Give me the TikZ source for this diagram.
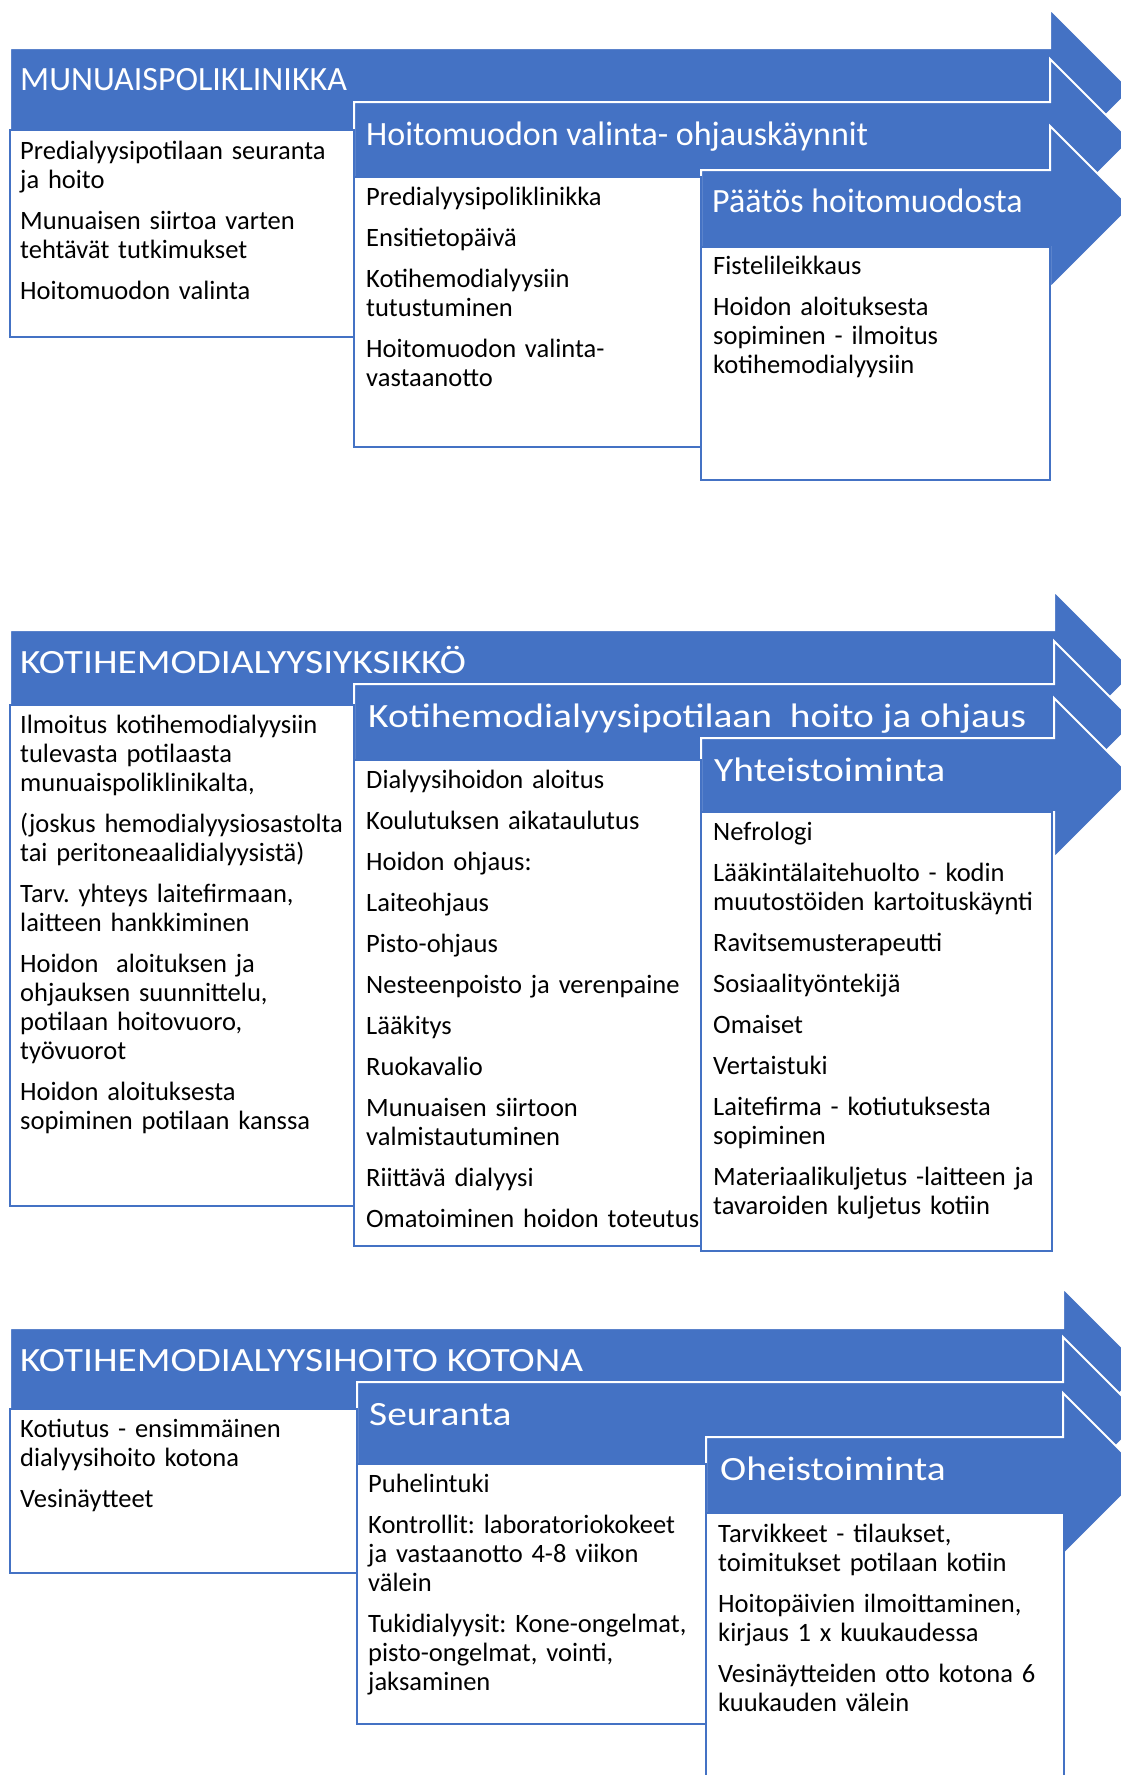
\documentclass[tikz,border=0pt]{standalone}
\usepackage{fontspec}
\setmainfont{Carlito}
\newfontfamily\wideheadfont[FakeStretch=1.16]{Carlito}
\definecolor{accent}{HTML}{4472C4}
\frenchspacing

\begin{document}
\begin{tikzpicture}[x=1pt, y=-1pt,
    arrowshape/.style={fill=accent, draw=white, line width=2pt, line join=miter},
    textbox/.style={draw=accent, fill=white, line width=2pt},
    header/.style={anchor=base west, inner sep=0pt, text=white, font=\fontsize{34}{40}\selectfont},
    wideheader/.style={header, font=\wideheadfont\fontsize{34}{40}\selectfont},
    items/.style={anchor=base west, inner sep=0pt, text width=420pt, align=left, font=\fontsize{26.5}{29}\selectfont}]
    \useasboundingbox (0,0) rectangle (1120,1775);

    % Munuaispoliklinikka
    \filldraw[arrowshape] (10,48) -- (1050,48) -- (1050,9) -- (1131,90) -- (1050,171) -- (1050,130) -- (10,130) -- cycle;
    \filldraw[arrowshape] (354,102) -- (1050,102) -- (1050,59) -- (1131,140) -- (1050,221) -- (1050,177) -- (354,177) -- cycle;
    \filldraw[arrowshape] (701,170) -- (1050,170) -- (1050,126) -- (1131,207) -- (1050,288) -- (1050,247) -- (701,247) -- cycle;
    \draw[textbox] (10,130) rectangle (354,337);
    \draw[textbox] (354,177) rectangle (701,447);
    \draw[textbox] (701,247) rectangle (1050,480);
    \node[header] (polihead) at (20,90) {MUNUAISPOLIKLINIKKA};
    \node[header] (valintahead) at (366,145) {Hoitomuodon valinta- ohjauskäynnit};
    \node[header] (paatoshead) at (712,212) {Päätös hoitomuodosta};
    \node[items] (politext) at (20,159) {Predialyysipotilaan seuranta\\ja hoito\\[12pt]
        Munuaisen siirtoa varten\\tehtävät tutkimukset\\[12pt]
        Hoitomuodon valinta};
    \node[items] (valintatext) at (366,205) {Predialyysipoliklinikka\\[12pt]
        Ensitietopäivä\\[12pt]
        Kotihemodialyysiin\\tutustuminen\\[12pt]
        Hoitomuodon valinta-\\vastaanotto};
    \node[items] (paatostext) at (713,274) {Fistelileikkaus\\[12pt]
        Hoidon aloituksesta\\sopiminen - ilmoitus\\kotihemodialyysiin};

    % Kotihemodialyysiyksikko
    \filldraw[arrowshape] (10,630) -- (1054,630) -- (1054,591) -- (1135,672) -- (1054,753) -- (1054,705) -- (10,705) -- cycle;
    \filldraw[arrowshape] (354,684) -- (1054,684) -- (1054,641) -- (1135,722) -- (1054,803) -- (1054,760) -- (354,760) -- cycle;
    \filldraw[arrowshape] (701,738) -- (1054,738) -- (1054,698) -- (1134,778) -- (1054,858) -- (1054,812) -- (701,812) -- cycle;
    \draw[textbox] (10,705) rectangle (354,1206);
    \draw[textbox] (354,760) rectangle (701,1246);
    \draw[textbox] (701,812) rectangle (1052,1251);
    \node[wideheader] (yksikkohead) at (20,673) {KOTIHEMODIALYYSIYKSIKKÖ};
    \node[wideheader] (hoitohead) at (368,727) {Kotihemodialyysipotilaan\ \ hoito ja ohjaus};
    \node[wideheader] (yhteishead) at (714,781) {Yhteistoiminta};
    \node[items] (yksikkotext) at (20,733) {Ilmoitus kotihemodialyysiin\\tulevasta potilaasta\\munuaispoliklinikalta,\\[12pt]
        (joskus hemodialyysiosastolta\\tai peritoneaalidialyysistä)\\[12pt]
        Tarv. yhteys laitefirmaan,\\laitteen hankkiminen\\[12pt]
        Hoidon\ \ aloituksen ja\\ohjauksen suunnittelu,\\potilaan hoitovuoro,\\työvuorot\\[12pt]
        Hoidon aloituksesta\\sopiminen potilaan kanssa};
    \node[items] (hoitotext) at (366,788) {Dialyysihoidon aloitus\\[12pt]
        Koulutuksen aikataulutus\\[12pt]
        Hoidon ohjaus:\\[12pt]
        Laiteohjaus\\[12pt]
        Pisto-ohjaus\\[12pt]
        Nesteenpoisto ja verenpaine\\[12pt]
        Lääkitys\\[12pt]
        Ruokavalio\\[12pt]
        Munuaisen siirtoon\\valmistautuminen\\[12pt]
        Riittävä dialyysi\\[12pt]
        Omatoiminen hoidon toteutus};
    \node[items] (yhteistext) at (713,840) {Nefrologi\\[12pt]
        Lääkintälaitehuolto - kodin\\muutostöiden kartoituskäynti\\[12pt]
        Ravitsemusterapeutti\\[12pt]
        Sosiaalityöntekijä\\[12pt]
        Omaiset\\[12pt]
        Vertaistuki\\[12pt]
        Laitefirma - kotiutuksesta\\sopiminen\\[12pt]
        Materiaalikuljetus -laitteen ja\\tavaroiden kuljetus kotiin};

    % Kotihemodialyysihoito kotona
    \filldraw[arrowshape] (10,1328) -- (1063,1328) -- (1063,1288) -- (1144,1369) -- (1063,1450) -- (1063,1409) -- (10,1409) -- cycle;
    \filldraw[arrowshape] (357,1382) -- (1063,1382) -- (1063,1337) -- (1144,1418) -- (1063,1499) -- (1063,1464) -- (357,1464) -- cycle;
    \filldraw[arrowshape] (706,1437) -- (1063,1437) -- (1063,1393) -- (1144,1474) -- (1063,1555) -- (1063,1513) -- (706,1513) -- cycle;
    \draw[textbox] (10,1409) rectangle (357,1573);
    \draw[textbox] (357,1464) rectangle (706,1724);
    \draw[textbox] (706,1513) rectangle (1064,1790);
    \node[wideheader] (kotihead) at (20,1371) {KOTIHEMODIALYYSIHOITO KOTONA};
    \node[wideheader] (seurantahead) at (369,1425) {Seuranta};
    \node[wideheader] (oheishead) at (720,1480) {Oheistoiminta};
    \node[items] (kotitext) at (20,1437) {Kotiutus - ensimmäinen\\dialyysihoito kotona\\[12pt]
        Vesinäytteet};
    \node[items] (seurantatext) at (368,1492) {Puhelintuki\\[12pt]
        Kontrollit: laboratoriokokeet\\ja vastaanotto 4-8 viikon\\välein\\[12pt]
        Tukidialyysit: Kone-ongelmat,\\pisto-ongelmat, vointi,\\jaksaminen};
    \node[items] (oheistext) at (718,1542) {Tarvikkeet - tilaukset,\\toimitukset potilaan kotiin\\[12pt]
        Hoitopäivien ilmoittaminen,\\kirjaus 1 x kuukaudessa\\[12pt]
        Vesinäytteiden otto kotona 6\\kuukauden välein};
\end{tikzpicture}
\end{document}
